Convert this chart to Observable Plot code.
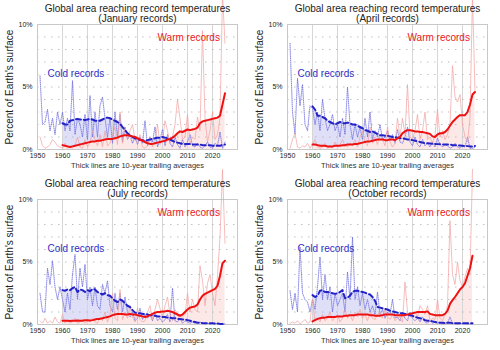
<!DOCTYPE html>
<html>
<head>
<meta charset="utf-8">
<script src="https://cdn.jsdelivr.net/npm/d3@7"></script>
<script src="https://cdn.jsdelivr.net/npm/@observablehq/plot@0.6"></script>
<style>
  html, body { margin: 0; padding: 0; background: #fff; }
  #grid { display: grid; grid-template-columns: 250px 250px; grid-template-rows: 175px 175px; width: 500px; height: 350px; }
  #grid svg { display: block; }
</style>
</head>
<body>
<div id="grid"></div>
<script>
// ---------- DATA ----------
const annualStart = 1951;   // first year of the annual series
const avgStart = 1960;      // first year of the 10-year trailing averages

const mainTitle = "Global area reaching record temperatures";
const panelTitles = ["(January records)", "(April records)", "(July records)", "(October records)"];
const xTicks = [1950, 1960, 1970, 1980, 1990, 2000, 2010, 2020];
const yTicks = [0, 5, 10];
const gridYears = [1960, 1970, 1980, 1990, 2000, 2010, 2020];
const gridPct = [1, 2, 3, 4, 5, 6, 7, 8, 9];
const warmLabel = "Warm records";
const coldLabel = "Cold records";
const yLabel = "Percent of Earth's surface";
const caption = "Thick lines are 10-year trailing averages";

// January
const janWarm = [1.0,0.3,0.1,0.2,0.4,0.8,0.6,0.3,0.2,
  0.1,0.5,0.1,0.2,0.1,0.3,1.0,0.2,0.1,0.8,
  0.2,0.5,1.5,0.8,0.3,1.2,0.2,1.5,0.3,0.5,
  1.2,1.8,0.4,3.0,0.5,1.8,0.8,1.5,2.0,0.8,
  0.5,1.2,0.2,0.1,0.3,1.0,0.2,0.6,2.0,0.4,
  0.8,2.3,1.5,0.5,1.0,2.0,4.0,2.5,0.8,1.0,
  2.8,0.5,1.0,0.8,2.6,1.5,9.5,2.5,0.6,1.5,
  3.0,0.8,1.2,2.5,12.4,8.5];
const janCold = [5.9,2.0,2.2,3.2,1.5,2.5,1.2,3.0,2.0,
  3.0,1.5,2.5,1.5,5.5,1.2,2.5,2.0,1.0,2.8,
  0.8,4.3,1.0,3.0,1.0,3.5,4.2,2.5,1.0,2.5,
  0.5,3.0,1.0,2.8,0.6,1.8,0.8,1.2,0.5,1.0,
  0.4,1.0,0.5,2.3,0.3,1.0,0.6,1.8,0.2,0.8,
  1.6,0.3,1.2,0.5,0.2,1.0,0.4,0.1,0.8,0.2,
  0.6,1.2,0.3,0.2,0.5,0.2,0.1,0.3,0.6,0.2,
  0.1,0.5,0.3,1.4,0.1,0.6];
const janWarmAvg = [0.35,0.3,0.25,0.2,0.25,0.3,0.35,0.4,0.45,0.5,
  0.55,0.6,0.65,0.65,0.7,0.7,0.75,0.8,0.85,0.85,
  0.85,0.9,0.95,1.05,1.1,1.15,1.15,1.1,1.05,1.0,
  0.9,0.8,0.7,0.6,0.5,0.45,0.45,0.5,0.55,0.6,
  0.65,0.7,0.8,0.85,0.95,1.1,1.3,1.45,1.4,1.5,
  1.6,1.55,1.6,1.65,1.75,2.1,2.25,2.3,2.35,2.4,
  2.45,2.5,2.55,2.7,3.6,4.5];
const janColdAvg = [2.1,2.0,2.0,2.3,2.35,2.4,2.45,2.4,2.4,2.35,
  2.4,2.45,2.4,2.3,2.3,2.3,2.4,2.5,2.55,2.5,
  2.4,2.3,2.2,2.05,1.8,1.55,1.3,1.15,1.0,0.9,
  0.82,0.78,0.75,0.7,0.75,0.8,0.85,0.9,0.95,0.95,
  1.0,0.95,0.9,0.8,0.7,0.6,0.55,0.5,0.45,0.45,
  0.45,0.45,0.4,0.4,0.4,0.4,0.35,0.35,0.35,0.35,
  0.3,0.3,0.3,0.3,0.35,0.4];

// April
const aprWarm = [0.1,0.8,1.3,0.2,0.1,0.3,0.2,0.5,0.1,
  0.4,0.8,0.2,0.1,0.2,0.5,0.1,0.3,0.1,0.6,
  0.2,0.4,0.8,0.3,0.2,0.5,0.3,0.8,0.2,1.0,
  1.5,0.6,0.3,1.8,0.5,1.0,0.4,1.2,0.8,0.3,
  1.8,0.6,0.2,0.5,2.5,1.0,2.5,1.2,5.2,1.0,
  0.8,1.5,2.8,0.8,1.5,3.0,0.8,1.0,0.5,1.2,
  3.2,1.0,1.5,0.8,1.2,2.0,6.7,4.2,3.8,4.4,
  2.0,1.0,0.6,2.5,12.4,4.6];
const aprCold = [8.5,3.0,1.2,5.7,3.5,5.2,2.0,1.5,3.5,
  3.3,2.0,3.0,1.5,4.0,2.5,1.5,2.0,2.8,1.5,
  2.0,1.0,2.5,1.2,5.0,2.0,0.8,2.0,1.0,1.8,
  0.8,2.5,1.0,3.0,0.8,1.5,1.0,2.0,0.8,1.0,
  1.5,0.7,1.2,0.5,1.6,0.6,0.5,1.0,1.8,0.6,
  0.3,1.0,0.4,0.2,0.8,0.3,0.5,0.2,0.6,0.2,
  0.9,0.4,0.2,0.4,0.3,0.1,0.2,0.5,0.2,0.1,
  0.3,0.2,1.0,0.1,0.1,0.2];
const aprWarmAvg = [0.4,0.4,0.35,0.3,0.3,0.3,0.25,0.25,0.25,0.3,
  0.3,0.3,0.35,0.35,0.4,0.4,0.4,0.45,0.45,0.5,
  0.55,0.6,0.65,0.65,0.7,0.75,0.8,0.8,0.8,0.75,
  0.75,0.8,0.8,0.75,0.9,1.0,1.3,1.45,1.55,1.55,
  1.5,1.45,1.45,1.4,1.4,1.35,1.3,1.25,1.05,1.0,
  1.2,1.3,1.3,1.4,1.6,1.9,2.2,2.4,2.6,2.75,
  2.75,2.75,3.0,3.6,4.4,4.6];
const aprColdAvg = [3.45,3.2,2.7,2.7,2.6,2.5,2.3,2.2,2.1,2.0,
  2.1,2.2,2.1,2.1,2.15,2.1,2.0,2.0,1.9,1.8,
  1.7,1.55,1.5,1.4,1.45,1.35,1.25,1.15,1.15,1.1,
  1.1,1.05,1.0,1.0,0.95,0.9,0.9,0.85,0.8,0.78,
  0.75,0.7,0.65,0.6,0.55,0.5,0.5,0.48,0.45,0.45,
  0.43,0.42,0.4,0.4,0.4,0.4,0.35,0.35,0.33,0.32,
  0.3,0.28,0.27,0.25,0.25,0.28];

// July
const julWarm = [0.3,0.1,0.5,0.1,0.3,0.1,0.6,0.2,0.1,
  0.8,0.1,0.3,0.1,0.2,0.5,0.1,0.2,0.4,0.1,
  0.3,0.2,0.5,0.2,0.1,0.6,0.3,1.0,0.2,0.8,
  2.5,0.5,0.3,2.8,0.4,1.0,0.5,1.5,0.6,0.2,
  1.3,0.4,0.2,0.3,1.0,1.5,0.4,1.2,2.0,1.3,
  0.5,1.5,2.2,0.8,0.3,1.2,0.8,0.3,0.6,0.8,
  2.5,1.0,2.0,1.2,1.0,4.7,3.5,1.5,3.3,4.0,
  2.5,1.5,3.9,7.0,12.4,6.5];
const julCold = [2.5,1.0,1.0,4.5,3.2,5.1,3.0,2.0,3.0,
  2.0,1.0,2.5,1.2,4.0,5.6,2.0,4.5,3.0,4.8,
  2.0,3.0,1.5,3.0,1.5,1.2,3.2,2.5,3.5,1.5,
  1.0,2.5,1.2,2.5,1.0,2.2,1.0,0.6,1.0,0.3,
  0.5,1.3,0.4,0.8,0.5,0.8,0.3,1.0,0.3,0.5,
  0.2,0.4,0.8,0.2,2.9,0.3,0.2,0.5,0.1,0.3,
  0.2,0.1,0.2,0.1,0.1,0.2,0.05,0.1,0.1,0.05,
  0.1,0.05,0.1,0.02,0.02,0.05];
const julWarmAvg = [0.3,0.3,0.3,0.28,0.3,0.3,0.32,0.3,0.3,0.35,
  0.35,0.32,0.35,0.4,0.45,0.45,0.5,0.55,0.6,0.65,
  0.75,0.8,0.85,0.85,0.85,0.8,0.8,0.85,0.8,0.8,
  0.75,0.7,0.65,0.6,0.65,0.75,0.85,0.95,1.0,1.0,
  1.05,1.05,1.1,1.05,1.0,0.9,0.8,0.7,0.8,1.0,
  1.2,1.35,1.4,1.45,1.6,2.0,2.3,2.45,2.55,2.65,
  2.75,2.85,3.1,3.9,4.9,5.1];
const julColdAvg = [2.75,2.7,2.8,2.75,2.9,3.0,2.6,2.8,2.75,2.6,
  2.75,2.65,2.85,2.8,2.6,2.5,2.4,2.5,2.35,2.3,
  2.1,1.9,1.8,2.0,1.9,1.7,1.5,1.4,1.15,0.95,
  0.9,0.9,0.85,0.85,0.8,0.75,0.75,0.7,0.65,0.65,
  0.6,0.6,0.55,0.55,0.5,0.5,0.45,0.45,0.4,0.4,
  0.35,0.3,0.25,0.2,0.15,0.15,0.12,0.1,0.1,0.1,
  0.1,0.08,0.08,0.05,0.05,0.05];

// October
const octWarm = [0.1,0.2,0.1,0.3,0.05,0.2,0.4,0.1,0.2,
  2.0,0.3,0.5,0.2,0.8,0.3,0.5,1.0,0.3,0.6,
  0.8,0.2,0.5,1.2,0.5,0.8,0.3,1.0,0.6,1.2,
  0.5,0.8,0.3,1.0,0.5,0.4,0.8,1.0,0.5,1.2,
  0.6,0.4,0.8,0.3,0.5,0.6,0.2,3.4,1.0,0.6,
  0.8,1.0,0.6,1.5,1.2,0.8,1.5,0.3,0.5,0.4,
  2.0,0.5,0.3,0.8,1.5,8.3,4.0,3.2,5.0,3.5,
  3.0,3.8,4.5,4.0,12.4];
const octCold = [2.7,1.2,2.5,1.0,6.2,2.5,2.0,1.8,1.0,
  2.0,1.2,3.0,5.4,2.0,4.0,2.0,3.0,1.0,2.5,
  1.5,2.0,2.5,1.0,4.2,2.0,7.0,2.0,3.0,1.5,
  2.5,1.2,2.0,1.0,1.5,0.8,2.6,0.8,1.2,0.5,
  1.0,0.8,2.0,0.5,0.6,0.3,1.0,0.5,0.3,1.0,
  0.5,0.3,0.5,0.2,0.6,0.2,0.1,0.3,0.1,0.2,
  0.1,0.2,0.05,0.1,0.1,0.6,0.1,0.1,0.05,0.1,
  0.05,0.1,0.05,0.05,0.05];
const octWarmAvg = [0.25,0.35,0.45,0.5,0.55,0.55,0.6,0.6,0.6,0.6,
  0.65,0.65,0.65,0.7,0.7,0.75,0.75,0.75,0.8,0.8,
  0.8,0.8,0.8,0.75,0.75,0.7,0.7,0.7,0.75,0.8,
  0.8,0.8,0.8,0.75,0.75,0.75,0.75,0.75,0.8,0.85,
  0.9,0.95,1.0,1.0,1.0,1.0,1.05,0.85,0.8,0.75,
  0.75,0.75,0.75,0.85,1.1,1.65,1.95,2.2,2.5,2.8,
  3.0,3.3,3.9,4.5,5.5];
const octColdAvg = [2.35,2.2,2.3,2.7,2.75,2.6,2.6,2.55,2.5,2.45,
  2.5,2.6,2.75,2.1,2.15,2.3,2.6,2.7,2.7,2.65,
  2.6,2.55,2.45,2.4,2.2,1.9,1.4,1.35,1.3,1.25,
  1.2,1.1,1.05,1.0,0.95,0.9,0.9,0.85,0.8,0.75,
  0.7,0.6,0.55,0.5,0.45,0.35,0.3,0.3,0.25,0.2,
  0.15,0.15,0.15,0.1,0.15,0.15,0.1,0.1,0.1,0.1,
  0.1,0.1,0.1,0.1,0.1];

const panels = [
  {sub: panelTitles[0], warm: janWarm, cold: janCold, warmAvg: janWarmAvg, coldAvg: janColdAvg},
  {sub: panelTitles[1], warm: aprWarm, cold: aprCold, warmAvg: aprWarmAvg, coldAvg: aprColdAvg},
  {sub: panelTitles[2], warm: julWarm, cold: julCold, warmAvg: julWarmAvg, coldAvg: julColdAvg},
  {sub: panelTitles[3], warm: octWarm, cold: octCold, warmAvg: octWarmAvg, coldAvg: octColdAvg}
];

// ---------- DRAW ----------
const font = "'Liberation Sans', Arial, sans-serif";
const grid = document.getElementById("grid");

for (const p of panels) {
  const annual = p.warm.map((v, i) => ({year: annualStart + i, warm: v, cold: p.cold[i]}));
  const avg = p.warmAvg.map((v, i) => ({year: avgStart + i, warm: v, cold: p.coldAvg[i]}));

  const chart = Plot.plot({
    width: 250,
    height: 175,
    marginTop: 24,
    marginBottom: 26,
    marginLeft: 37,
    marginRight: 13,
    style: {fontFamily: font, fontSize: "7px", overflow: "visible", background: "transparent", color: "#222"},
    x: {domain: [1950, 2030], ticks: xTicks, tickFormat: d => String(d), tickSize: 0, tickPadding: 4, label: null},
    y: {domain: [0, 10], ticks: yTicks, tickFormat: d => d + "%", tickSize: 0, tickPadding: 5, label: null},
    marks: [
      Plot.areaY(avg, {x: "year", y1: 0, y2: "warm", fill: "#fde8e8"}),
      Plot.areaY(avg, {x: "year", y1: "warm", y2: d => Math.max(d.cold, d.warm), fill: "#dfdff8"}),
      Plot.ruleX(gridYears, {stroke: "#d6d6d6", strokeWidth: 1}),
      Plot.ruleY(gridPct, {stroke: "#b0b0b0", strokeWidth: 0.8, strokeDasharray: "1.5,5.5"}),
      Plot.frame({stroke: "#c8c8c8"}),
      Plot.lineY(annual, {x: "year", y: "cold", stroke: "#b4b4f0", strokeWidth: 0.5}),
      Plot.lineY(annual, {x: "year", y: "cold", stroke: "#5a5ad8", strokeWidth: 0.7, strokeDasharray: "0.7,1.4", strokeOpacity: 0.85}),
      Plot.lineY(annual, {x: "year", y: "warm", stroke: "#f2a0a0", strokeWidth: 0.7}),
      Plot.lineY(avg, {x: "year", y: "cold", stroke: "#2222c8", strokeWidth: 2, strokeDasharray: "5,3"}),
      Plot.lineY(avg, {x: "year", y: "warm", stroke: "#ee1111", strokeWidth: 2}),
      Plot.text([warmLabel], {text: d => d, frameAnchor: "top-left", textAnchor: "start", dx: 120, dy: 9, fontSize: 10, fill: "#e82020"}),
      Plot.text([coldLabel], {text: d => d, frameAnchor: "top-left", textAnchor: "start", dx: 10, dy: 45, fontSize: 10, fill: "#2e2ec4"}),
      Plot.text([mainTitle + "\n" + p.sub], {text: d => d, frameAnchor: "top", textAnchor: "middle", lineAnchor: "bottom", lineHeight: 1.0, dy: -3, fontSize: 10, fill: "#222"}),
      Plot.text([caption], {text: d => d, frameAnchor: "bottom", textAnchor: "middle", lineAnchor: "bottom", dy: 18, fontSize: 7.5, fill: "#333"}),
      Plot.text([yLabel], {text: d => d, frameAnchor: "left", textAnchor: "middle", lineAnchor: "middle", rotate: -90, dx: -28, fontSize: 10, fill: "#222"})
    ]
  });
  grid.appendChild(chart);
}
</script>
</body>
</html>
